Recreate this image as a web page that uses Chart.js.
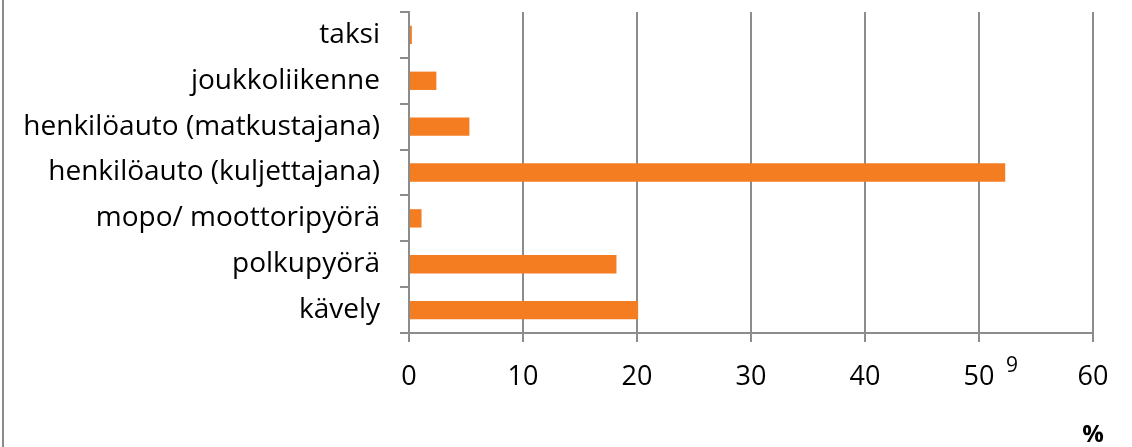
<!DOCTYPE html>
<html>
<head>
<meta charset="utf-8">
<script src="https://cdn.jsdelivr.net/npm/chart.js@4"></script>
<style>
    html, body { margin: 0; padding: 0; background: #fff; }
    #wrap { position: relative; width: 1132px; height: 447px; }
    #wrap::before {
        content: ""; position: absolute; left: 2px; top: 0; width: 2px; height: 447px; background: #8a8a8a;
    }
</style>
</head>
<body>
<div id="wrap"><canvas id="modeChart" width="1132" height="447"></canvas></div>
<script>
const categories = [
    "taksi",
    "joukkoliikenne",
    "henkilöauto (matkustajana)",
    "henkilöauto (kuljettajana)",
    "mopo/ moottoripyörä",
    "polkupyörä",
    "kävely"
];
const shares = [0.25, 2.4, 5.3, 52.3, 1.1, 18.2, 20.1];
const xTicks = [0, 10, 20, 30, 40, 50, 60];

const barColor = "#F47D22";
const gridColor = "#8c8c8c";
const fontFamily = "'Open Sans', sans-serif";

// unit label and the stray footnote mark next to the 50 tick, as in the original
const extraText = {
    id: "extraText",
    afterDraw(chart) {
        const ctx = chart.ctx;
        const x = chart.scales.x;
        ctx.save();
        ctx.fillStyle = "#000";
        ctx.textAlign = "center";
        ctx.textBaseline = "middle";
        ctx.font = "21px " + fontFamily;
        ctx.fillText("9", x.getPixelForValue(50) + 33, 366);
        ctx.font = "bold 24px " + fontFamily;
        ctx.fillText("%", x.getPixelForValue(60), 435);
        ctx.restore();
    }
};

const createHorizontalBar = (id, data, labels) => {
    const ctx = document.getElementById(id).getContext("2d");

    return new Chart(ctx, {
        type: "bar",
        data: {
            labels: labels,
            datasets: [
                {
                    data: data,
                    backgroundColor: barColor,
                    borderWidth: 0,
                    barPercentage: 0.4,
                    categoryPercentage: 1,
                },
            ],
        },
        options: {
            indexAxis: "y",
            responsive: false,
            animation: false,
            layout: { padding: { left: 0, right: 39, top: 12, bottom: 0 } },
            plugins: {
                legend: { display: false },
                tooltip: { enabled: false },
            },
            scales: {
                x: {
                    min: 0,
                    max: 60,
                    afterBuildTicks: (axis) => {
                        axis.ticks = xTicks.map((v) => ({ value: v }));
                    },
                    afterFit: (axis) => { axis.height = 114; },
                    grid: {
                        color: gridColor,
                        lineWidth: 2,
                        tickLength: 9,
                    },
                    border: { color: gridColor, width: 2 },
                    ticks: {
                        color: "#000",
                        font: { family: fontFamily, size: 27 },
                        padding: 19,
                        maxRotation: 0,
                    },
                },
                y: {
                    afterFit: (axis) => {
                        axis.width = 409;
                        axis.paddingTop = 0;
                        axis.paddingBottom = 0;
                    },
                    grid: {
                        offset: true,
                        drawOnChartArea: false,
                        color: gridColor,
                        lineWidth: 2,
                        tickLength: 9,
                    },
                    border: { color: gridColor, width: 2 },
                    ticks: {
                        color: "#000",
                        font: { family: fontFamily, size: 28 },
                        padding: 20,
                    },
                },
            },
        },
        plugins: [extraText],
    });
};

createHorizontalBar("modeChart", shares, categories);
</script>
</body>
</html>
